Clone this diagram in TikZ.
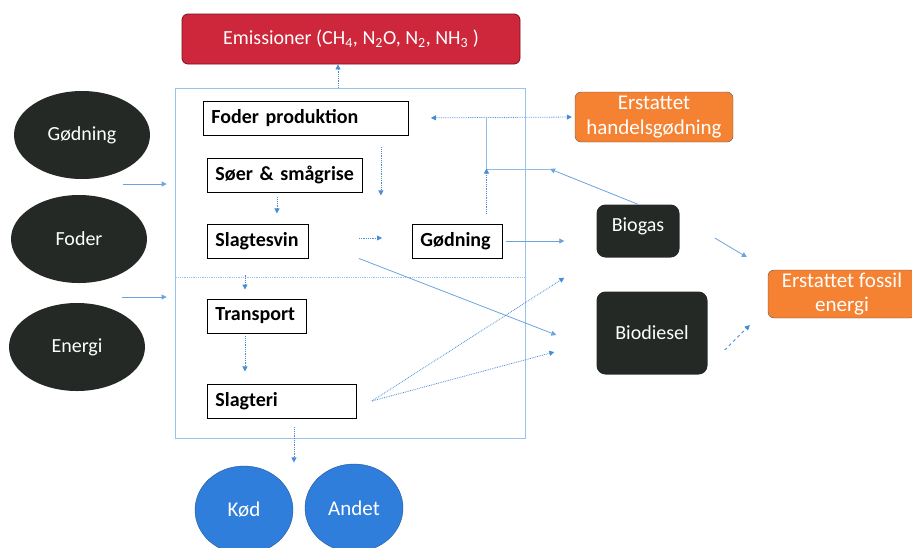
\documentclass[tikz,border=0pt]{standalone}
\usepackage{fontspec}
\setmainfont{Carlito}
\usepackage{tikz}
\usetikzlibrary{shapes.geometric,arrows.meta,positioning}

\definecolor{emired}{RGB}{206,38,58}
\definecolor{subred}{RGB}{120,20,30}
\definecolor{orng}{RGB}{245,130,50}
\definecolor{blob}{RGB}{36,41,38}
\definecolor{meatblue}{RGB}{48,126,220}
\definecolor{flowblue}{RGB}{70,140,215}
\definecolor{edgeblue}{RGB}{150,195,240}

\begin{document}
\begin{tikzpicture}[
  x=1pt, y=-1pt,
  >={Triangle[length=5pt,width=5pt]},
  every node/.style={font=\fontsize{20}{22}\selectfont},
  inputblob/.style={ellipse,fill=blob,text=white,minimum width=136pt,minimum height=88pt},
  procbox/.style={draw=black,line width=0.9pt,fill=white,anchor=west,align=left,
    inner xsep=8pt,minimum height=34pt,font=\bfseries\fontsize{20}{21}\selectfont},
  energybox/.style={rounded corners=9pt,fill=blob,text=white,inner sep=0pt},
  resultbox/.style={rounded corners=6pt,fill=orng,draw=gray!70!black,text=white,align=center,
    inner sep=0pt,font=\fontsize{21}{24.5}\selectfont},
  outblob/.style={ellipse,fill=meatblue,draw=meatblue!70!black,text=white,minimum width=98pt,
    minimum height=88pt,font=\fontsize{21}{23}\selectfont},
  farmbox/.style={draw=edgeblue,line width=0.8pt,minimum width=350pt,minimum height=350pt,inner sep=0pt},
  flow/.style={->,flowblue,densely dotted,line width=0.8pt},
  flowsolid/.style={->,flowblue!80,line width=0.8pt},
  pipe/.style={flowblue!60,line width=0.8pt}
  ]
  \useasboundingbox (0,0) rectangle (912,547);

  % system boundary
  \node[farmbox] (farm) at (350,263) {};
  \draw[edgeblue,densely dotted,line width=0.8pt] (farm.west |- 0,277) -- (farm.east |- 0,277);

  \node[rounded corners=6pt,fill=emired,draw=subred,line width=0.8pt,text=white,
        minimum width=338pt,minimum height=50pt] (emis) at (351,39)
        {Emissioner (CH\textsubscript{4}, N\textsubscript{2}O, N\textsubscript{2}, NH\textsubscript{3} )};

  % inputs
  \node[inputblob] (goedning) at (82,135) {Gødning};
  \node[inputblob] (foder)    at (79,239) {Foder};
  \node[inputblob] (energi)   at (77,347) {Energi};

  % farm chain
  \node[procbox,text width=189pt] (fodprod)    at (203,118) {Foder produktion};
  \node[procbox,text width=139pt] (soer)       at (207,175) {Søer \& smågrise};
  \node[procbox,text width=85pt]  (slagtesvin) at (207,241) {Slagtesvin};
  \node[procbox,text width=74pt]  (goedbox)    at (412,241) {Gødning};
  \node[procbox,text width=83pt]  (transport)  at (207,316) {Transport};
  \node[procbox,text width=133pt] (slagteri)   at (207,401) {Slagteri};

  % energy and results
  \node[energybox,minimum width=83pt,minimum height=53pt]  (biogas)    at (638,231) {\raisebox{12pt}{Biogas}};
  \node[energybox,minimum width=111pt,minimum height=83pt] (biodiesel) at (652,333) {Biodiesel};
  \node[resultbox,minimum width=158pt,minimum height=50pt] (handels)   at (654,117) {Erstattet\\handelsgødning};
  \node[resultbox,minimum width=148pt,minimum height=48pt] (fossil)    at (842,294) {Erstattet fossil\\energi};

  % outputs
  \node[outblob] (koed)  at (244,510) {Kød};
  \node[outblob] (andet) at (354,508) {Andet};

  \coordinate (inA)    at (123,184);
  \coordinate (inB)    at (122,297);
  \coordinate (manure) at (486,117);
  \coordinate (digest) at (550,169);

  \draw[flowsolid,shorten >=8pt] (inA) -- (inA -| farm.west);
  \draw[flowsolid,shorten >=8pt] (inB) -- (inB -| farm.west);

  \draw[flow] ([xshift=-12pt]farm.north) -- ([xshift=-13pt]emis.south);
  \draw[flow,<->,shorten <=22pt,shorten >=3pt] (fodprod.east) -- (handels.west);
  \draw[pipe] (manure) |- (digest);
  \draw[flowsolid] (biogas.north) -- (digest);

  \draw[flow] ([xshift=-28pt,yshift=-12pt]fodprod.south east) -- ++(0,48);
  \draw[flow,shorten <=5pt,shorten >=12pt] ([xshift=-8pt]soer.south) -- ++(0,33);
  \draw[flow,shorten <=50pt,shorten >=30pt] ([yshift=3pt]slagtesvin.east) -- ([yshift=3pt]goedbox.west);
  \draw[flow] ([xshift=29pt,yshift=10pt]goedbox.north) -- ++(0,-45);
  \draw[flowsolid,shorten <=3pt,shorten >=32pt] (goedbox.east) -- (goedbox.east -| biogas.west);

  \draw[flowsolid] ([xshift=50pt]slagtesvin.south east) -- ([xshift=-40pt,yshift=-2pt]biodiesel.west);
  \draw[flow] ([xshift=15pt]slagteri.east) -- ([xshift=-32pt,yshift=-20pt]biogas.south west);
  \draw[flow] ([xshift=15pt]slagteri.east) -- ([xshift=-42pt,yshift=-19pt]biodiesel.west);

  \draw[flowsolid] ([xshift=35pt,yshift=-7pt]biogas.east) -- ([xshift=-21pt,yshift=37pt]fossil.west);
  \draw[flow,dashed] ([xshift=17pt,yshift=-17pt]biodiesel.east) -- ([xshift=-18pt,yshift=-31pt]fossil.west);

  \draw[flow] ([xshift=-12pt,yshift=24pt]transport.north) -- ([xshift=-12pt,yshift=9pt]transport.north);
  \draw[flow,shorten <=3pt] ([xshift=-12pt]transport.south) -- ++(0,38);
  \draw[flow] ([xshift=12pt,yshift=-9pt]slagteri.south) -- ++(0,35);
\end{tikzpicture}
\end{document}
